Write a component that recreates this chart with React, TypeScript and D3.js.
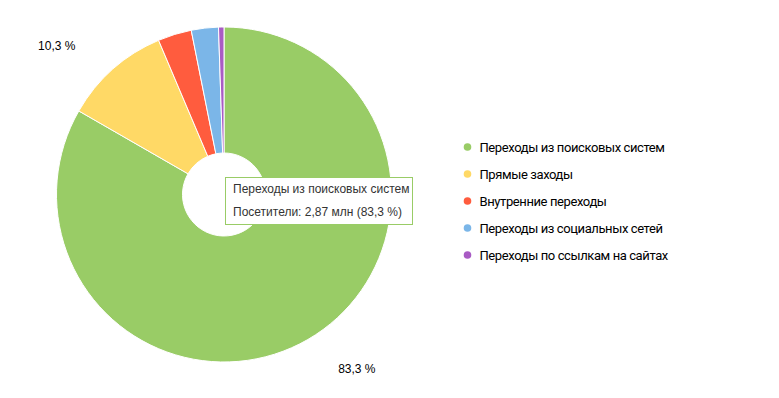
import React, { useEffect, useRef } from "react";
import * as d3 from "d3";

// источники трафика
const sources = [
  "Переходы из поисковых систем",
  "Прямые заходы",
  "Внутренние переходы",
  "Переходы из социальных сетей",
  "Переходы по ссылкам на сайтах",
];
const visitors = [2.87, 0.355, 0.112, 0.09, 0.018]; // млн
const colors = ["#99cc66", "#ffd966", "#ff5c3e", "#7bb6e8", "#a95bc4"];

const fmt1 = (v: number) => d3.format(".1f")(v).replace(".", ",");
const fmt2 = (v: number) => d3.format(".2f")(v).replace(".", ",");

export default function App() {
  const ref = useRef<SVGSVGElement>(null);

  useEffect(() => {
    const svg = d3.select(ref.current);
    svg.selectAll("*").remove();

    const cx = 224;
    const cy = 194.5;
    const outerR = 167.5;
    const innerR = 41.5;
    const total = d3.sum(visitors);

    const data = sources.map((name, i) => ({
      name,
      value: visitors[i],
      share: (visitors[i] / total) * 100,
      color: colors[i],
    }));

    const pie = d3
      .pie<any>()
      .value((d) => d.value)
      .sort(null);
    const arcs = pie(data);

    const arc = d3.arc<any>().innerRadius(innerR).outerRadius(outerR);
    const labelArc = d3.arc<any>().innerRadius(200).outerRadius(200);

    const g = svg.append("g").attr("transform", `translate(${cx},${cy})`);

    g.selectAll("path")
      .data(arcs)
      .enter()
      .append("path")
      .attr("d", arc)
      .attr("fill", (d) => d.data.color)
      .attr("stroke", "#fff")
      .attr("stroke-width", 1);

    // подписи только для крупных долей
    g.selectAll("text.lbl")
      .data(arcs.filter((d) => d.data.share > 5))
      .enter()
      .append("text")
      .attr("class", "lbl")
      .attr("x", (d) => {
        const [x] = labelArc.centroid(d);
        return x < 0 ? x - 16 : x + 14;
      })
      .attr("y", (d) => labelArc.centroid(d)[1] + 5.5)
      .attr("text-anchor", (d) => (labelArc.centroid(d)[0] < 0 ? "end" : "start"))
      .attr("font-family", "Arial, 'Liberation Sans', sans-serif")
      .attr("font-size", 12)
      .attr("fill", "#000")
      .text((d) => fmt1(d.data.share) + " %");

    // легенда
    const legend = svg.append("g").attr("transform", "translate(467.5,147)");
    const rows = legend
      .selectAll("g")
      .data(data)
      .enter()
      .append("g")
      .attr("transform", (d, i) => `translate(0,${i * 27})`);
    rows.append("circle").attr("r", 3.8).attr("fill", (d) => d.color);
    rows
      .append("text")
      .attr("x", 12)
      .attr("y", 4.8)
      .attr("font-family", "Roboto, sans-serif")
      .attr("font-size", 13)
      .attr("letter-spacing", -0.4)
      .attr("fill", "#000")
      .text((d) => d.name);

    // всплывающая подсказка
    const top = data[0];
    const tip = svg.append("g").attr("transform", "translate(225.5,177.5)");
    tip
      .append("rect")
      .attr("width", 187)
      .attr("height", 47)
      .attr("fill", "#fff")
      .attr("stroke", "#99cc66")
      .attr("stroke-width", 1);
    tip
      .append("text")
      .attr("x", 7.5)
      .attr("y", 15)
      .attr("font-family", "Arial, 'Liberation Sans', sans-serif")
      .attr("font-size", 12)
      .attr("fill", "#333")
      .text(top.name);
    tip
      .append("text")
      .attr("x", 7.5)
      .attr("y", 38)
      .attr("font-family", "Arial, 'Liberation Sans', sans-serif")
      .attr("font-size", 12)
      .attr("fill", "#333")
      .text(`Посетители: ${fmt2(top.value)} млн (${fmt1(top.share)} %)`);
  }, []);

  return (
    <svg
      ref={ref}
      width={779}
      height={398}
      style={{ position: "absolute", left: 0, top: 0 }}
    />
  );
}
